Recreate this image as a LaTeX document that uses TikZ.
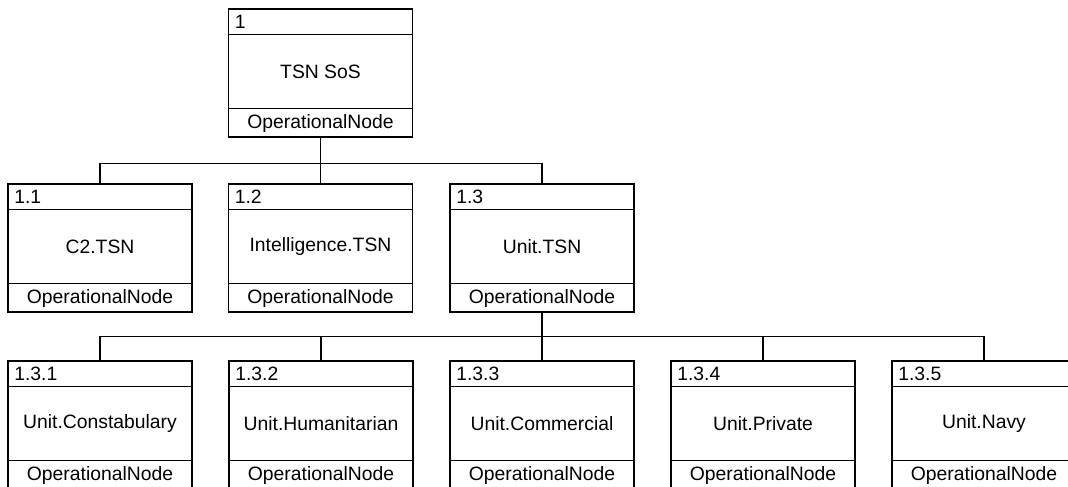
\documentclass[tikz,border=0pt]{standalone}
\usepackage{fontspec}
\setmainfont{Liberation Sans}
\usepackage{tikz}
\usetikzlibrary{positioning,calc}

% one operational node: box with number header and type footer
\newcommand{\opnode}[4]{%
  \node[opbox] (#1) at (#2) {};
  \draw[rule] ([yshift=-19.5pt]#1.north west) -- ([yshift=-19.5pt]#1.north east);
  \draw[rule] ([yshift=21.75pt]#1.south west) -- ([yshift=21.75pt]#1.south east);
  \node[numlbl] (#1-num) at ([xshift=5pt,yshift=-9.75pt]#1.north west) {#3};
  \node[namelbl] (#1-name) at ([yshift=1.1pt]#1.center) {#4};
  \node[kindlbl] (#1-kind) at ([yshift=10.9pt]#1.south) {OperationalNode};
}

\begin{document}
\begin{tikzpicture}[
    x=0.75pt, y=-0.75pt,
    font=\fontsize{14.5}{16}\selectfont,
    opbox/.style={draw=black, fill=white, line width=0.9pt,
                  minimum width=138pt, minimum height=96pt, inner sep=0pt},
    rule/.style={line width=0.9pt},
    numlbl/.style={anchor=west, inner sep=0pt},
    namelbl/.style={inner sep=0pt},
    kindlbl/.style={inner sep=0pt},
    link/.style={line width=0.9pt}]
  \useasboundingbox (0,0) rectangle (1068,486);
  \fill[white] (0,0) rectangle (1068,486);
  \clip (0,0) rectangle (1068,486);

  % top level
  \opnode{sos}{320.5,73}{1}{TSN SoS}
  % second level
  \opnode{c2}{100,248}{1.1}{C2.TSN}
  \opnode{intel}{320.5,248}{1.2}{Intelligence.TSN}
  \opnode{unit}{542,248}{1.3}{Unit.TSN}
  % third level
  \opnode{constab}{100,425}{1.3.1}{Unit.Constabulary}
  \opnode{human}{321,425}{1.3.2}{Unit.Humanitarian}
  \opnode{commerc}{542,425}{1.3.3}{Unit.Commercial}
  \opnode{private}{763,425}{1.3.4}{Unit.Private}
  \opnode{navy}{984,425}{1.3.5}{Unit.Navy}

  % tree links
  \foreach \kid in {c2,intel,unit}
    \draw[link] (sos.south) -- ++(0,26) -| (\kid.north);
  \foreach \kid in {constab,human,commerc,private,navy}
    \draw[link] (unit.south) -- ++(0,24) -| (\kid.north);
\end{tikzpicture}
\end{document}
